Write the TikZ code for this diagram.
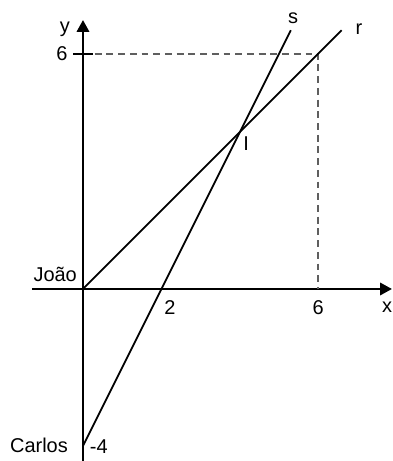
\documentclass[tikz,border=0pt]{standalone}
\usepackage{fontspec}
\setmainfont{Liberation Sans}
\usetikzlibrary{arrows.meta,positioning,calc}
\definecolor{cGuide}{RGB}{95,95,95}
\tikzset{
  axis/.style={line width=1.3pt,-{Triangle[length=8.5pt,width=9pt]}},
  line/.style={line width=1.3pt},
  guide/.style={line width=1.3pt,cGuide,dash pattern=on 5pt off 3.5pt},
  lbl/.style={font=\fontsize{14.5}{17}\selectfont,inner sep=0pt}
}

\begin{document}
\begin{tikzpicture}[x=1cm,y=1cm]
  \useasboundingbox (-2.117,-4.388) rectangle (7.883,7.372);
  % points
  \coordinate (O) at (0,0);
  \coordinate (C) at (0,-4);
  \coordinate (I) at (4,4);
  \coordinate (P) at (6,6);
  \coordinate (Y6) at (0,6);
  \coordinate (X6) at (6,0);
  \coordinate (Send) at (5.3,6.6);
  \coordinate (Rend) at (6.6,6.6);
  % axes
  \coordinate (xa) at (-1.3,0);
  \coordinate (xb) at (7.88,0);
  \coordinate (ya) at (0,-4.4);
  \coordinate (yb) at (0,6.86);
  \draw[axis] (xa) -- (xb);
  \draw[axis] (ya) -- (yb);
  % guides
  \draw[guide] (Y6) -- (P) -- (X6);
  \draw[line] ($(Y6)+(-0.25,0)$) -- ($(Y6)+(0.25,0)$);
  % the two lines
  \draw[line] (O) -- (Rend);
  \draw[line] (C) -- (Send);
  % labels
  \node[lbl] (ly) at (-0.46,6.63) {y};
  \node[lbl] (l6y) at (-0.54,6.0) {6};
  \node[lbl] (lx) at (7.76,-0.46) {x};
  \node[lbl] (l6x) at (6.0,-0.48) {6};
  \node[lbl] (l2) at (2.22,-0.48) {2};
  \node[lbl,anchor=east] (joao) at (-0.15,0.36) {João};
  \node[lbl,anchor=east] (carlos) at (-0.38,-3.98) {Carlos};
  \node[lbl,anchor=west] (lm4) at (0.17,-4.03) {-4};
  \node[lbl] (lI) at (4.16,3.72) {I};
  \node[lbl] (ls) at (5.36,6.91) {s};
  \node[lbl] (lr) at (7.04,6.63) {r};
\end{tikzpicture}
\end{document}
